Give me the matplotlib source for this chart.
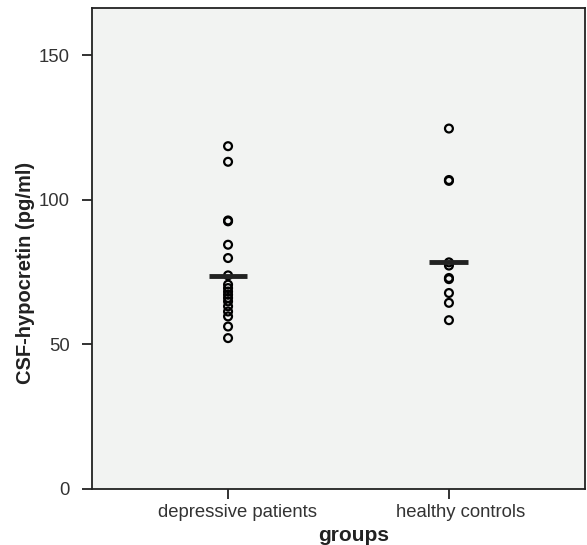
import matplotlib
matplotlib.use("Agg")
import matplotlib.pyplot as plt
from matplotlib.transforms import ScaledTranslation

categories = ["depressive patients", "healthy controls"]
depressive = [118.6, 113.2, 92.9, 92.6, 84.5, 79.9, 73.9, 70.7, 69.5, 68.3, 67.2,
              66.1, 64.9, 63.2, 61.4, 59.7, 56.2, 52.2]
healthy = [124.7, 106.9, 106.6, 78.4, 77.3, 73.0, 72.6, 67.8, 64.4, 58.4]
medians = [73.8, 78.4]
yticks = [0, 50, 100, 150]

plt.rcParams['font.family'] = ['Liberation Sans', 'DejaVu Sans']

fig = plt.figure(figsize=(5.87, 5.45), dpi=100)
ax = fig.add_axes([0.1567, 0.1028, 0.8399, 0.8825])
ax.set_facecolor("#f2f3f2")

groups = [depressive, healthy]
for i, vals in enumerate(groups):
    ax.scatter([i] * len(vals), vals, s=32, facecolors="none",
               edgecolors="black", linewidths=1.6, zorder=3)
    ax.hlines(medians[i], i - 0.088, i + 0.088, colors="#222222",
              linewidth=3.5, zorder=4)

ax.set_xlim(-0.616, 1.616)
ax.set_ylim(0, 166.4)
ax.set_xticks(range(len(categories)))
ax.set_xticklabels(categories)
ax.set_yticks(yticks)

for sp in ax.spines.values():
    sp.set_linewidth(1.3)
    sp.set_color("#222222")

ax.tick_params(axis="both", colors="#222222", labelcolor="#333333",
               labelsize=13.3, width=1.3, length=7)
ax.tick_params(axis="y", pad=9)
ax.tick_params(axis="x", pad=4)

# shift x tick labels slightly right as in the reference
shifts = [9, 12]
for lab, dx in zip(ax.get_xticklabels(), shifts):
    lab.set_transform(lab.get_transform() + ScaledTranslation(dx / 100, 0, fig.dpi_scale_trans))

ax.set_xlabel("groups", fontsize=15, fontweight="bold", color="#222222")
ax.xaxis.set_label_coords(0.53, -0.078)
ax.set_ylabel("CSF-hypocretin (pg/ml)", fontsize=14.5, fontweight="bold",
              color="#222222")
ax.yaxis.set_label_coords(-0.1156, 0.449)

fig.savefig("out.png", dpi=100, facecolor="white")
